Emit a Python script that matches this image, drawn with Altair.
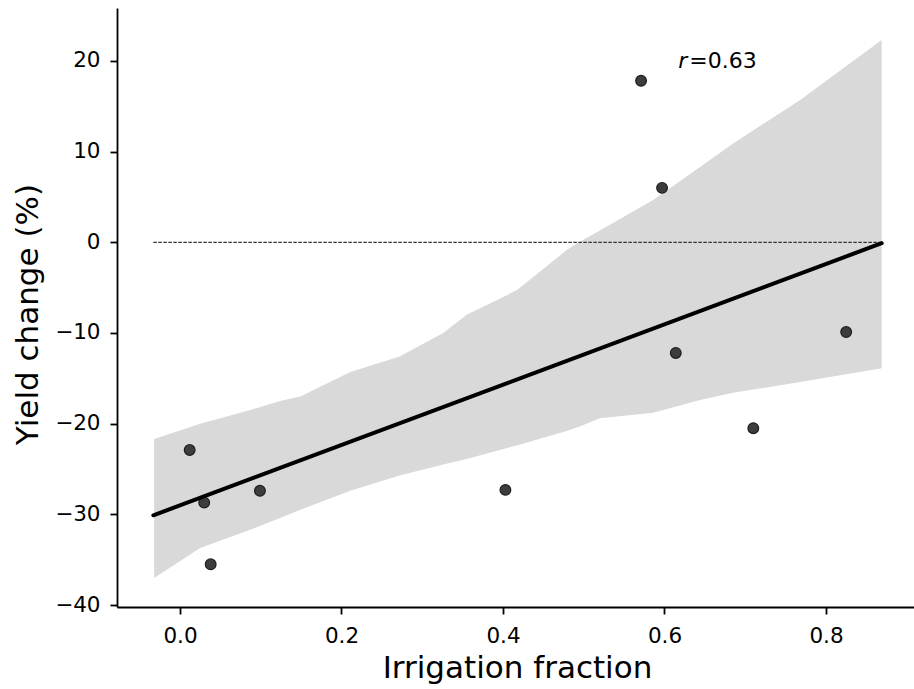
import altair as alt
import pandas as pd

# Scatter points (irrigation fraction, yield change %)
point_x = [0.012, 0.030, 0.038, 0.099, 0.403, 0.571, 0.597, 0.614, 0.710, 0.825]
point_y = [-22.9, -28.7, -35.5, -27.4, -27.3, 17.8, 6.0, -12.2, -20.5, -9.9]

# Regression line end points
fit_x = [-0.033, 0.869]
fit_y = [-30.1, -0.1]

# Confidence band
band_x = [-0.032, 0.025, 0.087, 0.124, 0.149, 0.211, 0.272, 0.326, 0.355, 0.417,
          0.479, 0.495, 0.520, 0.586, 0.644, 0.685, 0.768, 0.869]
band_upper = [-21.7, -20.0, -18.5, -17.5, -17.0, -14.3, -12.6, -10.0, -8.0, -5.3,
              -0.85, 0.07, 1.3, 4.66, 8.3, 10.9, 15.7, 22.3]
band_lower = [-37.0, -33.7, -31.7, -30.4, -29.5, -27.4, -25.7, -24.5, -23.9, -22.4,
              -20.8, -20.3, -19.4, -18.8, -17.4, -16.6, -15.4, -13.9]

# Zero reference line
zero_x = [-0.033, 0.869]
zero_y = [0.0, 0.0]

x_ticks = [0.0, 0.2, 0.4, 0.6, 0.8]
y_ticks = [-40, -30, -20, -10, 0, 10, 20]

r_symbol = "r"
r_value = "=0.63"

pts = pd.DataFrame({"x": point_x, "y": point_y})
fit = pd.DataFrame({"x": fit_x, "y": fit_y})
band = pd.DataFrame({"x": band_x, "lo": band_lower, "hi": band_upper})
zero = pd.DataFrame({"x": zero_x, "y": zero_y})

FONT = "DejaVu Sans"
xs = alt.Scale(domain=[-0.078, 0.909], nice=False, zero=False)
ys = alt.Scale(domain=[-40.21, 25.83], nice=False, zero=False)

xaxis = alt.Axis(
    title="Irrigation fraction", values=x_ticks, format=".1f", grid=False,
    labelFontSize=21.5, labelFont=FONT, labelColor="black", labelPadding=11,
    tickSize=7, tickWidth=1.8, tickColor="black",
    domainColor="black", domainWidth=1.8,
    titleFontSize=31, titleFont=FONT, titleFontWeight="normal", titleColor="black",
    titleX=400, titleY=70, titleBaseline="alphabetic", titleAlign="center",
)
yaxis = alt.Axis(
    title="Yield change (%)", values=y_ticks, grid=False,
    labelExpr="replace(format(datum.value, 'd'), '-', '\u2212')",
    labelFontSize=21.5, labelFont=FONT, labelColor="black", labelPadding=10,
    tickSize=7, tickWidth=1.8, tickColor="black",
    domainColor="black", domainWidth=1.8,
    titleFontSize=31, titleFont=FONT, titleFontWeight="normal", titleColor="black",
    titleX=-80, titleY=306, titleBaseline="alphabetic", titleAlign="center", titleAngle=270,
)

band_layer = alt.Chart(band).mark_area(color="#d9d9d9", opacity=1).encode(
    x=alt.X("x:Q", scale=xs, axis=xaxis),
    y=alt.Y("lo:Q", scale=ys, axis=yaxis),
    y2="hi:Q",
)

zero_layer = alt.Chart(zero).mark_line(color="#333333", strokeWidth=1.3, strokeDash=[3.5, 1.5]).encode(
    x=alt.X("x:Q", scale=xs), y=alt.Y("y:Q", scale=ys)
)

pts_layer = alt.Chart(pts).mark_point(
    filled=True, shape="circle", size=115, color="#3d3d3d", opacity=1,
    stroke="#1e1e1e", strokeWidth=1.2,
).encode(x=alt.X("x:Q", scale=xs), y=alt.Y("y:Q", scale=ys))

fit_layer = alt.Chart(fit).mark_line(color="black", strokeWidth=4, strokeCap="round").encode(
    x=alt.X("x:Q", scale=xs), y=alt.Y("y:Q", scale=ys)
)

r_layer = alt.Chart(pd.DataFrame({"t": [r_symbol]})).mark_text(
    font=FONT, fontSize=22, fontStyle="italic", align="left", baseline="alphabetic", color="black"
).encode(x=alt.datum(0.617, scale=xs), y=alt.datum(19.2, scale=ys), text="t:N")

v_layer = alt.Chart(pd.DataFrame({"t": [r_value]})).mark_text(
    font=FONT, fontSize=22, align="left", baseline="alphabetic", color="black", dx=11
).encode(x=alt.datum(0.617, scale=xs), y=alt.datum(19.2, scale=ys), text="t:N")

chart = alt.layer(band_layer, zero_layer, pts_layer, fit_layer, r_layer, v_layer).properties(
    width=797, height=599,
    autosize=alt.AutoSizeParams(type="none"),
    padding={"left": 117, "top": 8, "right": 0, "bottom": 82},
    background="white",
).configure_view(stroke=None)

chart.save("out.html", embed_options={"renderer": "svg", "actions": False})
